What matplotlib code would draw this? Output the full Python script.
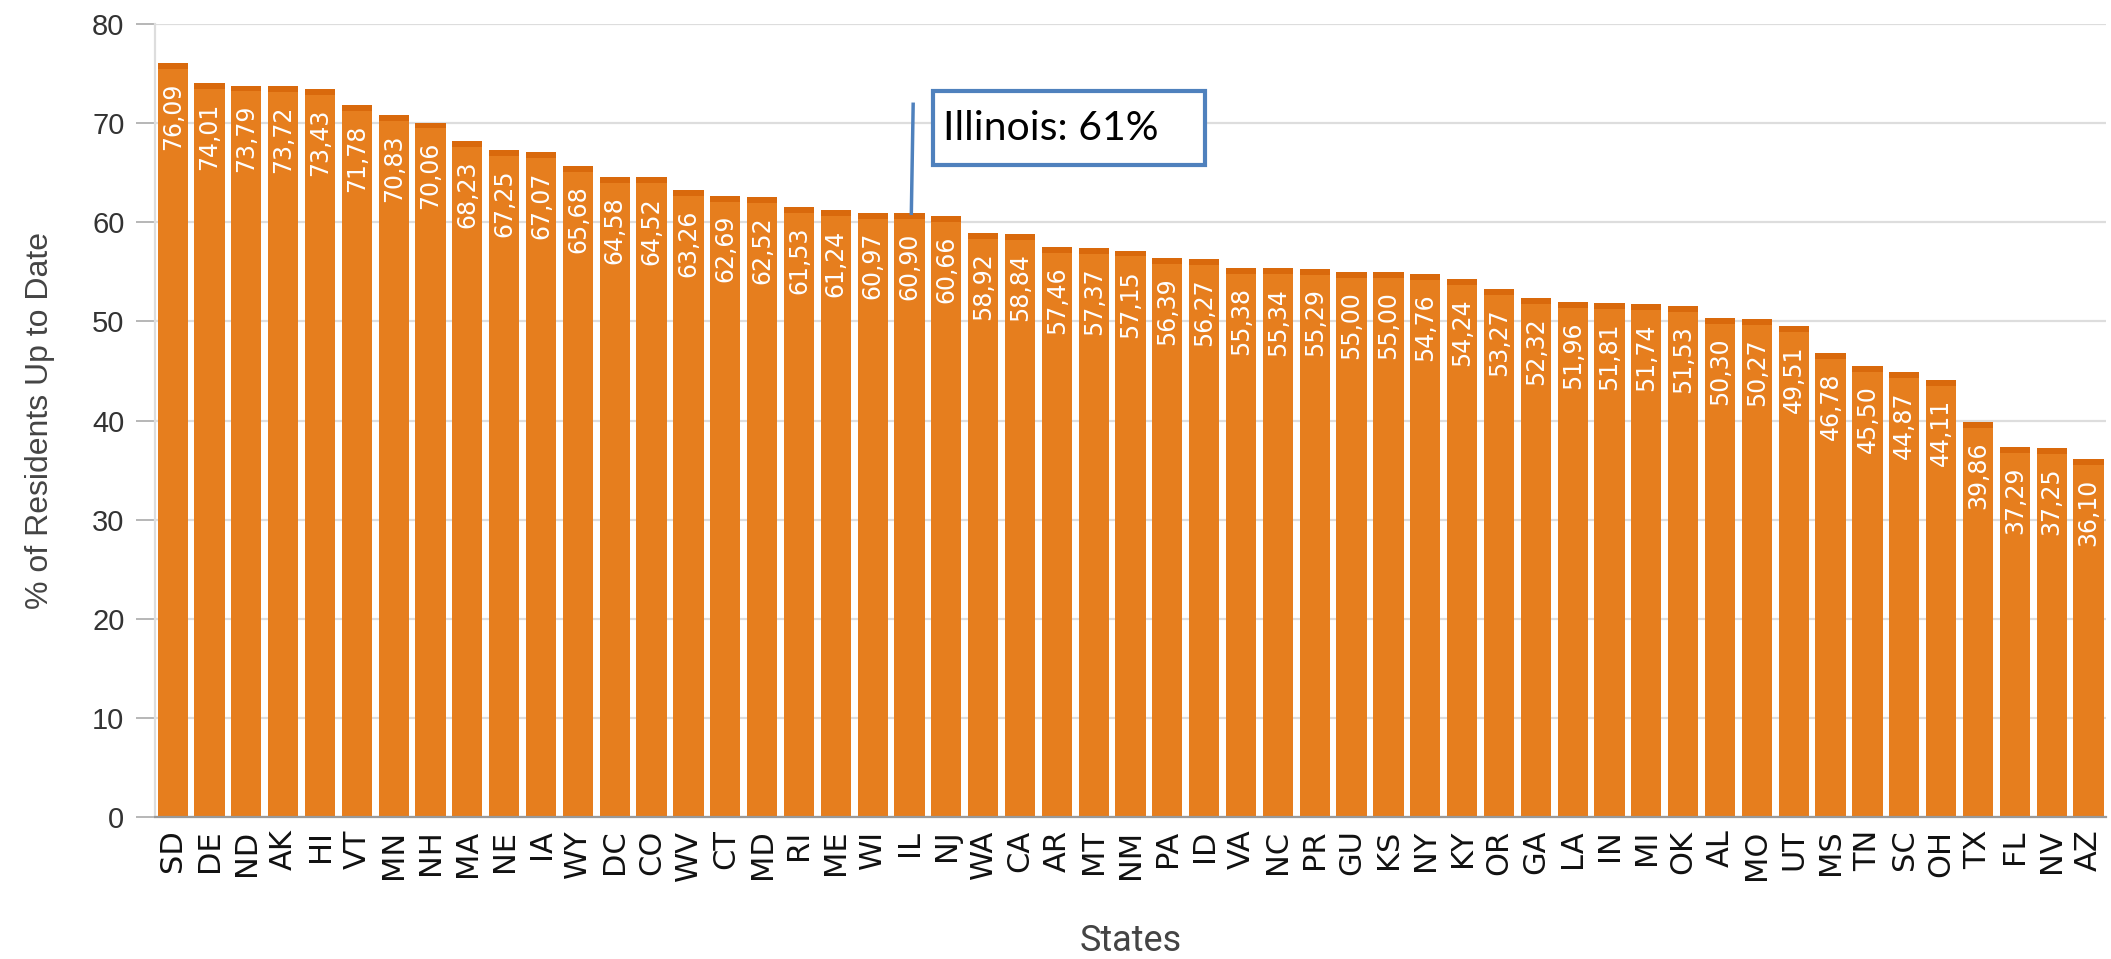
import matplotlib
matplotlib.use("Agg")
import matplotlib.pyplot as plt
from matplotlib.patches import Rectangle

# vaccination share by state, sorted high to low
states = ["SD", "DE", "ND", "AK", "HI", "VT", "MN", "NH", "MA", "NE", "IA", "WY",
          "DC", "CO", "WV", "CT", "MD", "RI", "ME", "WI", "IL", "NJ", "WA", "CA",
          "AR", "MT", "NM", "PA", "ID", "VA", "NC", "PR", "GU", "KS", "NY", "KY",
          "OR", "GA", "LA", "IN", "MI", "OK", "AL", "MO", "UT", "MS", "TN", "SC",
          "OH", "TX", "FL", "NV", "AZ"]
pct_up_to_date = [76.09, 74.01, 73.79, 73.72, 73.43, 71.78, 70.83, 70.06, 68.23,
                  67.25, 67.07, 65.68, 64.58, 64.52, 63.26, 62.69, 62.52, 61.53,
                  61.24, 60.97, 60.90, 60.66, 58.92, 58.84, 57.46, 57.37, 57.15,
                  56.39, 56.27, 55.38, 55.34, 55.29, 55.00, 55.00, 54.76, 54.24,
                  53.27, 52.32, 51.96, 51.81, 51.74, 51.53, 50.30, 50.27, 49.51,
                  46.78, 45.50, 44.87, 44.11, 39.86, 37.29, 37.25, 36.10]
y_ticks = [0, 10, 20, 30, 40, 50, 60, 70, 80]
callout_state = "IL"
callout_text = "Illinois: 61%"

bar_color = "#E67E1E"
callout_blue = "#4F81BD"

fig = plt.figure(figsize=(21.11, 9.59), dpi=100)
ax = fig.add_axes([0.0734, 0.148, 0.9243, 0.827])

x = list(range(len(states)))
ax.bar(x, pct_up_to_date, width=0.82, color=bar_color, zorder=2)
# slightly darker cap on each bar, like the gradient in the original
ax.bar(x, [0.6] * len(x), bottom=[v - 0.6 for v in pct_up_to_date], width=0.82,
       color="#D9690C", zorder=2)

for xi, v in zip(x, pct_up_to_date):
    ax.annotate(f"{v:.2f}".replace(".", ","), (xi, v), xytext=(0, -14),
                textcoords="offset points", rotation=90, ha="center", va="top",
                color="white", fontsize=17, family="DejaVu Sans", zorder=3)

ax.set_xlim(-0.48, len(states) - 0.52)
ax.set_ylim(0, 80)
ax.set_yticks(y_ticks)
ax.set_xticks(x)
ax.set_xticklabels(states, rotation=90, fontsize=22, family="DejaVu Sans",
                   color="#111111")
ax.tick_params(axis="x", length=0, pad=9)
ax.tick_params(axis="y", length=14, width=1.2, color="#aaaaaa", pad=8,
               labelsize=21, labelcolor="#333333")
for lab in ax.get_yticklabels():
    lab.set_family(["Liberation Sans", "DejaVu Sans"])

ax.yaxis.grid(True, color="#dddddd", linewidth=1.6, zorder=0)
ax.set_axisbelow(True)
for side in ["top", "right"]:
    ax.spines[side].set_visible(False)
ax.spines["left"].set_color("#dddddd")
ax.spines["left"].set_linewidth(1.6)
ax.spines["bottom"].set_color("#999999")
ax.spines["bottom"].set_linewidth(1.6)

ax.set_ylabel("% of Residents Up to Date", fontsize=23, color="#444444",
              family="Liberation Sans", va="center")
ax.yaxis.set_label_coords(-0.059, 0.5)
ax.set_xlabel("States", fontsize=26, color="#444444", family="Roboto",
              va="center")
ax.xaxis.set_label_coords(0.5, -0.156)

# callout for Illinois
i = states.index(callout_state)
val = pct_up_to_date[i]
ax.plot([i + 0.05, i + 0.1], [val, 71.9], color=callout_blue, lw=2.5, zorder=4)
ax.add_patch(Rectangle((20.65, 65.8), 7.38, 7.4, facecolor="white",
                       edgecolor=callout_blue, lw=3, zorder=5))
ax.text(20.9, 69.5, callout_text, fontsize=29.5, family="Lato", ha="left",
        va="center", color="black", zorder=6)

fig.savefig("out.png", dpi=100)
